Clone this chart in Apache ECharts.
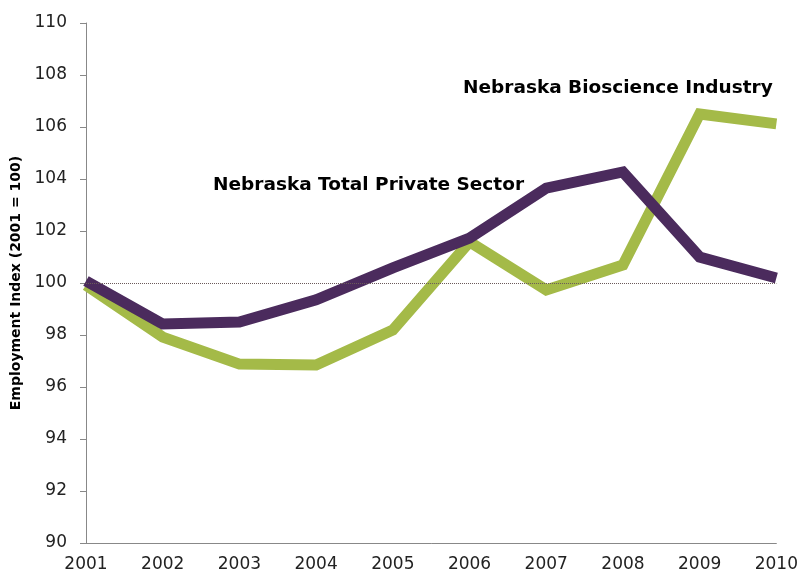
<!DOCTYPE html>
<html>
<head>
<meta charset="utf-8">
<script src="https://cdn.jsdelivr.net/npm/echarts@6/dist/echarts.min.js"></script>
<style>
html, body { margin: 0; padding: 0; background: #fff; }
#main { width: 801px; height: 577px; }
</style>
</head>
<body>
<div id="main"></div>
<script>
var years = ['2001', '2002', '2003', '2004', '2005', '2006', '2007', '2008', '2009', '2010'];
var bioscience = [99.92, 97.92, 96.88, 96.85, 98.19, 101.58, 99.73, 100.69, 106.5, 106.12];
var privateSector = [100.08, 98.42, 98.5, 99.35, 100.58, 101.73, 103.65, 104.27, 101.0, 100.19];
var baseline = 100;

var chart = echarts.init(document.getElementById('main'));

var option = {
    animation: false,
    grid: { left: 86, right: 24, top: 23, bottom: 34 },
    graphic: [{
        type: 'text', left: 463, top: 79,
        style: { text: 'Nebraska Bioscience Industry', font: 'bold 18.5px "DejaVu Sans", Verdana, sans-serif', fill: '#000' }
    }, {
        type: 'text', left: 213, top: 176,
        style: { text: 'Nebraska Total Private Sector', font: 'bold 18.5px "DejaVu Sans", Verdana, sans-serif', fill: '#000' }
    }],
    xAxis: {
        type: 'category',
        data: years,
        boundaryGap: false,
        axisLine: { lineStyle: { color: '#888', width: 1 } },
        axisTick: { show: false },
        axisLabel: { color: '#222', fontSize: 17, fontFamily: '"DejaVu Sans", Verdana, sans-serif', margin: 13 },
        splitLine: { show: false }
    },
    yAxis: {
        type: 'value',
        min: 90, max: 110, interval: 2,
        name: 'Employment Index (2001 = 100)',
        nameLocation: 'middle',
        nameGap: 62,
        nameTextStyle: { color: '#000', fontSize: 14, fontWeight: 'bold', fontFamily: '"DejaVu Sans", Verdana, sans-serif' },
        axisLine: { show: true, lineStyle: { color: '#888', width: 1 } },
        axisTick: { show: true, length: 6, lineStyle: { color: '#888' } },
        axisLabel: { color: '#222', fontSize: 17, fontFamily: '"DejaVu Sans", Verdana, sans-serif', margin: 19 },
        splitLine: { show: false }
    },
    series: [{
        name: 'Nebraska Bioscience Industry',
        type: 'line',
        data: bioscience,
        symbol: 'none',
        lineStyle: { color: '#a4ba48', width: 11, join: 'miter' },
        markLine: {
            silent: true,
            symbol: 'none',
            label: { show: false },
            lineStyle: { color: '#6b5a5a', type: 'dotted', width: 1 },
            data: [{ yAxis: baseline }]
        },
        z: 2
    }, {
        name: 'Nebraska Total Private Sector',
        type: 'line',
        data: privateSector,
        symbol: 'none',
        lineStyle: { color: '#4b2b5d', width: 11, join: 'miter' },
        z: 3
    }]
};

chart.setOption(option);
</script>
</body>
</html>
